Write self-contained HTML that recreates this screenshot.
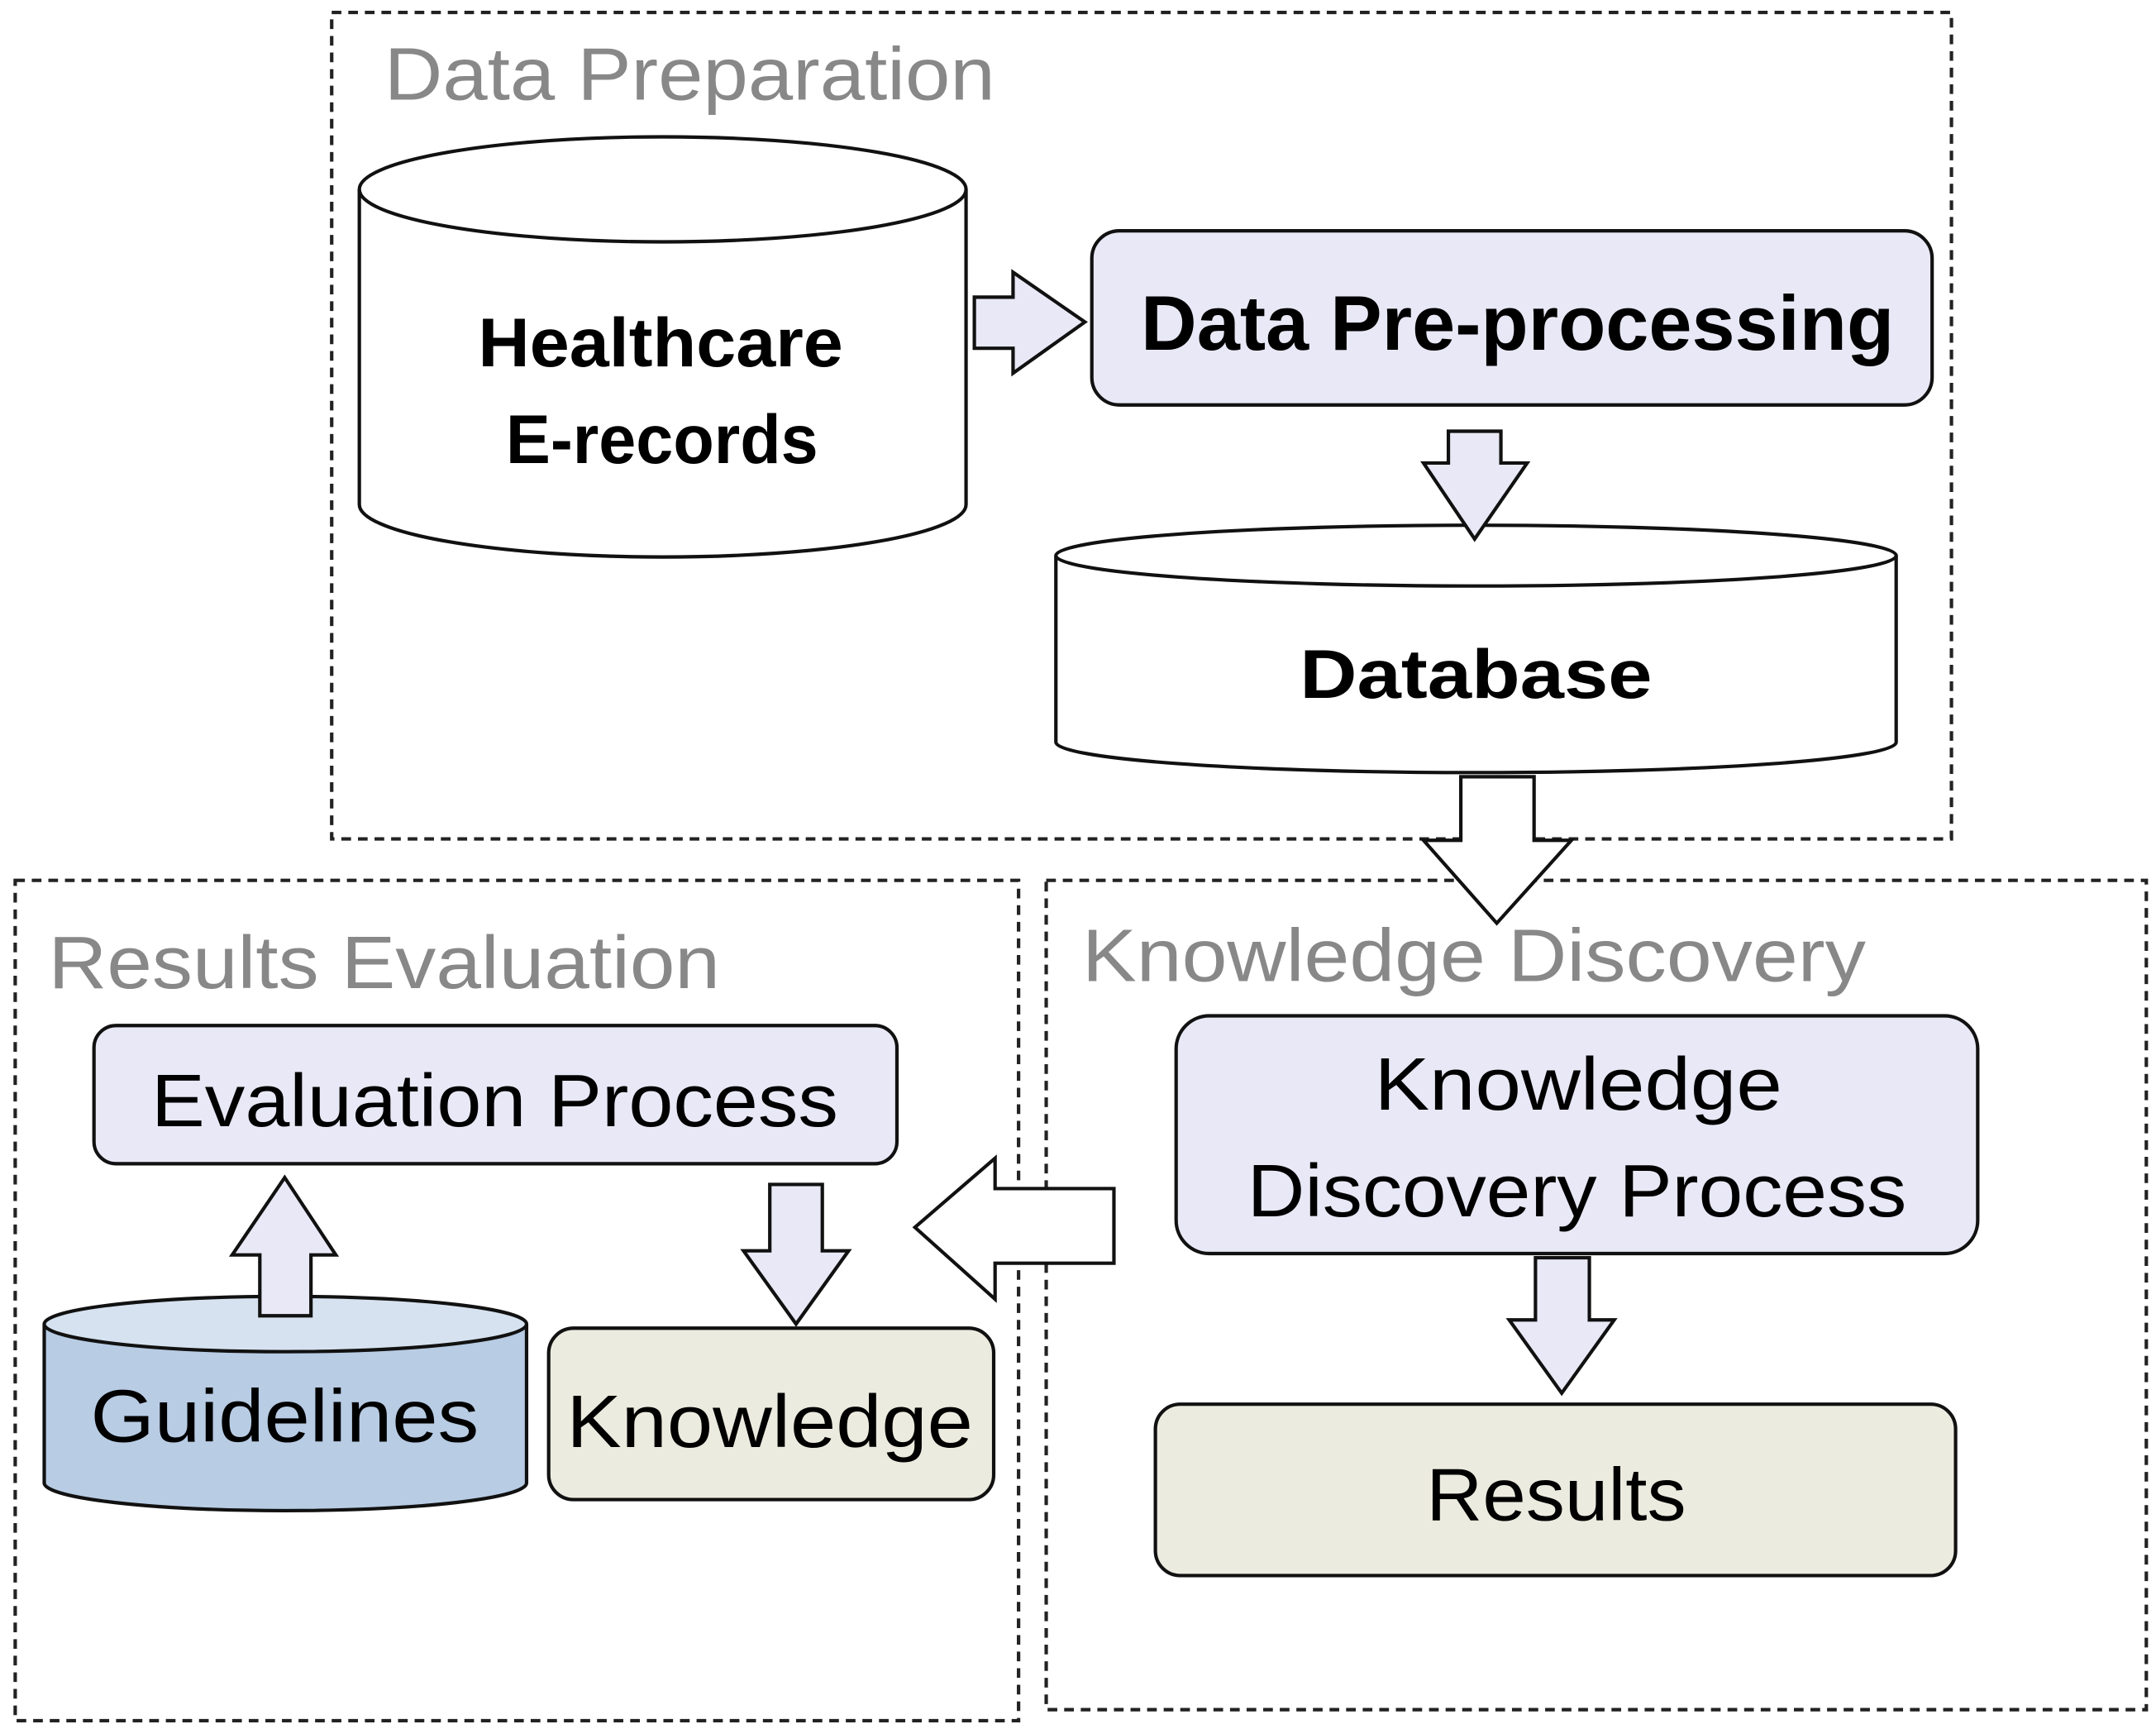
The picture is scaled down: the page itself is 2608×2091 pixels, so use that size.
<!DOCTYPE html>
<html><head><meta charset="utf-8"><style>
html,body{margin:0;padding:0;background:#fff;}
svg{display:block;}
text{font-family:"Liberation Sans",sans-serif;}
</style></head><body>
<svg width="2608" height="2091" viewBox="0 0 1560 1251" preserveAspectRatio="none" xmlns="http://www.w3.org/2000/svg">
<g fill="none" stroke="#222" stroke-width="2.5" stroke-dasharray="7,5">
<rect x="240" y="9" width="1172" height="598"/>
<rect x="11" y="637" width="726" height="608"/>
<rect x="757" y="637" width="796" height="600"/>
</g>
<g fill="#888" font-size="54">
<text x="278" y="72" textLength="442" lengthAdjust="spacingAndGlyphs">Data Preparation</text>
<text x="35" y="715" textLength="486" lengthAdjust="spacingAndGlyphs">Results Evaluation</text>
<text x="783" y="710" textLength="567" lengthAdjust="spacingAndGlyphs">Knowledge Discovery</text>
</g>
<g stroke="#111" stroke-width="2.5">
<!-- Healthcare cylinder -->
<path d="M260 137 V365 A219.5 38 0 0 0 699 365 V137" fill="#fff"/>
<ellipse cx="479.5" cy="137" rx="219.5" ry="38" fill="#fff"/>
<!-- Database cylinder -->
<path d="M764 402 V537 A304 22 0 0 0 1372 537 V402" fill="#fff"/>
<ellipse cx="1068" cy="402" rx="304" ry="22" fill="#fff"/>
<!-- Guidelines cylinder -->
<path d="M32 958 V1073 A174.5 20 0 0 0 381 1073 V958" fill="#b8cce4"/>
<ellipse cx="206.5" cy="958" rx="174.5" ry="20" fill="#d6e2ef"/>
<!-- rects -->
<rect x="790" y="167" width="608" height="126" rx="20" fill="#e8e8f6"/>
<rect x="68" y="742" width="581" height="100" rx="16" fill="#e8e8f6"/>
<rect x="397" y="961" width="322" height="124" rx="18" fill="#ecebdf"/>
<rect x="851" y="735" width="580" height="172" rx="24" fill="#e8e8f6"/>
<rect x="836" y="1016" width="579" height="124" rx="18" fill="#ecebdf"/>
<!-- arrows -->
<path d="M705 215 H733 V197 L785 233 L733 270 V252 H705 Z" fill="#e8e8f6"/>
<path d="M1048 312 H1086 V335 H1105 L1067 390 L1030 335 H1048 Z" fill="#e8e8f6"/>
<path d="M1057 562 H1110 V608 H1137 L1083 668 L1030 608 H1057 Z" fill="#fff"/>
<path d="M188 952 V908 H168 L206 852 L243 908 H225 V952 Z" fill="#e8e8f6"/>
<path d="M557 857 H595 V905 H614 L576 958 L538 905 H557 Z" fill="#e8e8f6"/>
<path d="M806 860 H720 V838 L662 888 L720 940 V914 H806 Z" fill="#fff"/>
<path d="M1111 910 H1150 V955 H1168 L1130 1008 L1092 955 H1111 Z" fill="#e8e8f6"/>
</g>
<g fill="#000" text-anchor="middle">
<g font-weight="bold" font-size="50">
<text x="478" y="265" textLength="264" lengthAdjust="spacingAndGlyphs">Healthcare</text>
<text x="479" y="335" textLength="226" lengthAdjust="spacingAndGlyphs">E-records</text>
<text x="1068" y="505" textLength="255" lengthAdjust="spacingAndGlyphs">Database</text>
<text x="1098" y="253" font-size="56" textLength="545" lengthAdjust="spacingAndGlyphs">Data Pre-processing</text>
</g>
<g font-size="54">
<text x="358" y="815" textLength="497" lengthAdjust="spacingAndGlyphs">Evaluation Process</text>
<text x="206" y="1043" textLength="281" lengthAdjust="spacingAndGlyphs">Guidelines</text>
<text x="557" y="1047" textLength="294" lengthAdjust="spacingAndGlyphs">Knowledge</text>
<text x="1142" y="803" textLength="295" lengthAdjust="spacingAndGlyphs">Knowledge</text>
<text x="1141" y="880" textLength="477" lengthAdjust="spacingAndGlyphs">Discovery Process</text>
<text x="1126" y="1100" textLength="188" lengthAdjust="spacingAndGlyphs">Results</text>
</g>
</g>
</svg>
</body></html>
